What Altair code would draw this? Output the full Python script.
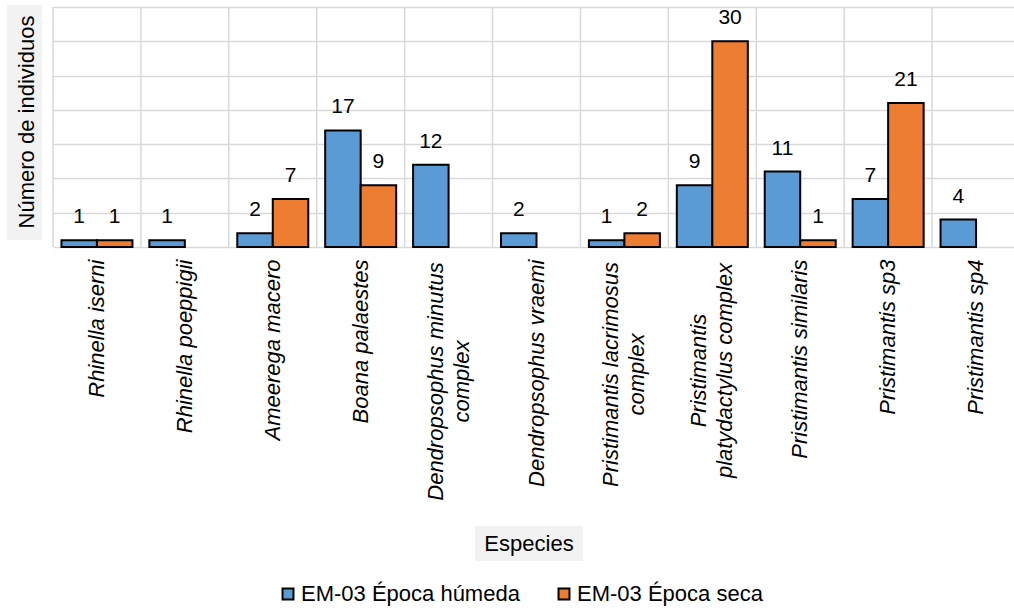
import altair as alt
import pandas as pd

# Amphibian counts per species for station EM-03, wet vs. dry season
species = [
    "Rhinella iserni",
    "Rhinella poeppigii",
    "Ameerega macero",
    "Boana palaestes",
    "Dendropsophus minutus complex",
    "Dendropsophus vraemi",
    "Pristimantis lacrimosus complex",
    "Pristimantis platydactylus complex",
    "Pristimantis similaris",
    "Pristimantis sp3",
    "Pristimantis sp4",
]
epoca_humeda = [1, 1, 2, 17, 12, 2, 1, 9, 11, 7, 4]
epoca_seca = [1, 0, 7, 9, 0, 0, 2, 30, 1, 21, 0]
series = ["EM-03 Época húmeda", "EM-03 Época seca"]
colors = ["#5B9BD5", "#ED7D31"]

# species names that are broken over two lines on the axis
label_lines = {
    "Dendropsophus minutus complex": ["Dendropsophus minutus", "complex"],
    "Pristimantis lacrimosus complex": ["Pristimantis lacrimosus", "complex"],
    "Pristimantis platydactylus complex": ["Pristimantis", "platydactylus complex"],
}
# distance of the centre of each two-line label below the axis
label_centre = {
    "Dendropsophus minutus complex": 134,
    "Pristimantis lacrimosus complex": 127,
    "Pristimantis platydactylus complex": 123,
}

rows = []
for sp, h, s in zip(species, epoca_humeda, epoca_seca):
    for name, v in zip(series, (h, s)):
        if v > 0:
            rows.append({"especie": sp, "epoca": name, "n": v})
df = pd.DataFrame(rows)
df_species = pd.DataFrame({"especie": species})

FONT = "Liberation Sans"
GRID = "#d9d9d9"
STEP_RANGE = 967  # band range; the last band runs slightly past the view
LINE_H = 26

expr_parts = []
for sp, lines in label_lines.items():
    expr_parts.append(f"datum.value == '{sp}' ? {lines!r}")
label_expr = " : ".join(expr_parts) + " : datum.label"
multi_test = " || ".join(f"datum.value == '{sp}'" for sp in label_lines)


def x_enc(band_position=None):
    kw = {}
    if band_position is not None:
        kw["bandPosition"] = band_position
    return alt.X(
        "especie:N",
        sort=species,
        scale=alt.Scale(domain=species, range=[0, STEP_RANGE], paddingInner=0, paddingOuter=0),
        axis=alt.Axis(
            title=None,
            domain=False,
            ticks=False,
            grid=False,
            labelAngle=270,
            labelFont=FONT,
            labelFontSize=22,
            labelFontStyle="italic",
            labelColor="#000000",
            labelLineHeight=LINE_H,
            labelLimit=400,
            labelExpr=label_expr,
            labelAlign={"condition": {"test": multi_test, "value": "center"}, "value": "right"},
            labelBaseline="middle",
            # centre the two lines of a wrapped label on its band
            labelOffset={"condition": {"test": multi_test, "value": -LINE_H / 2}, "value": 0},
            labelPadding={
                "condition": [
                    {"test": f"datum.value == '{sp}'", "value": v}
                    for sp, v in label_centre.items()
                ],
                "value": 12,
            },
        ),
        **kw,
    )


y_enc = alt.Y(
    "n:Q",
    scale=alt.Scale(domain=[0, 35], nice=False),
    axis=alt.Axis(
        title=None,
        values=[0, 5, 10, 15, 20, 25, 30, 35],
        labels=False,
        ticks=False,
        domain=False,
        grid=True,
        gridColor=GRID,
        gridWidth=1.5,
    ),
)

x_off = alt.XOffset(
    "epoca:N",
    scale=alt.Scale(domain=series, paddingInner=0, paddingOuter=0.238),
)

# vertical separators between species
vgrid = alt.Chart(df_species).mark_rule(color=GRID, strokeWidth=1.5).encode(
    x=x_enc(band_position=0)
)

bars = alt.Chart(df).mark_bar(stroke="#000000", strokeWidth=2).encode(
    x=x_enc(),
    xOffset=x_off,
    y=y_enc,
    color=alt.Color(
        "epoca:N",
        scale=alt.Scale(domain=series, range=colors),
        legend=alt.Legend(
            title=None,
            orient="none",
            legendX=224,
            legendY=576,
            direction="horizontal",
            symbolType="square",
            symbolSize=120,
            symbolStrokeColor="#000000",
            symbolStrokeWidth=2,
            symbolOpacity=1,
            labelFont=FONT,
            labelFontSize=22,
            labelColor="#000000",
            labelOffset=2,
            columnPadding=33,
            labelLimit=400,
        ),
    ),
)

values = alt.Chart(df).mark_text(
    font=FONT, fontSize=21, color="#000000", dy=-23, baseline="middle"
).encode(
    x=x_enc(),
    xOffset=x_off,
    y=y_enc,
    text="n:Q",
)

# axis titles set on light grey panels
ytitle_df = pd.DataFrame({"t": ["Número de individuos"]})
xtitle_df = pd.DataFrame({"t": ["Especies"]})

ytitle_box = alt.Chart(ytitle_df).mark_rect(color="#f2f2f2").encode(
    x=alt.value(-46), x2=alt.value(-11), y=alt.value(-2), y2=alt.value(233)
)
ytitle = alt.Chart(ytitle_df).mark_text(
    font=FONT, fontSize=22, color="#000000", angle=270, align="center", baseline="middle"
).encode(x=alt.value(-26), y=alt.value(115), text="t:N")

xtitle_box = alt.Chart(xtitle_df).mark_rect(color="#f2f2f2").encode(
    x=alt.value(422), x2=alt.value(530), y=alt.value(519), y2=alt.value(554)
)
xtitle = alt.Chart(xtitle_df).mark_text(
    font=FONT, fontSize=22, color="#000000", align="center", baseline="middle"
).encode(x=alt.value(476), y=alt.value(537), text="t:N")

chart = (
    alt.layer(vgrid, bars, values, ytitle_box, ytitle, xtitle_box, xtitle)
    .properties(
        width=961,
        height=240,
        autosize=alt.AutoSizeParams(type="none"),
        padding={"left": 53, "top": 7, "right": 0, "bottom": 365},
        background="#ffffff",
    )
    .configure_view(stroke=None)
)

chart.save("out.html", embed_options={"renderer": "svg", "actions": False})
